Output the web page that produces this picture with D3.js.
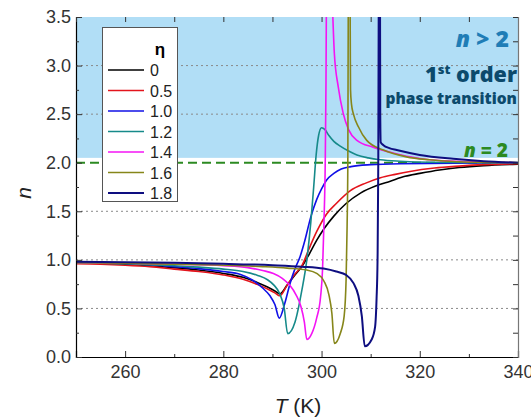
<!DOCTYPE html>
<html>
<head>
<meta charset="utf-8">
<script src="https://cdn.jsdelivr.net/npm/d3@7/dist/d3.min.js"></script>
<style>
  html, body { margin: 0; padding: 0; background: #fff; }
  svg { display: block; }
  .tick text { font-family: "Liberation Sans", Arial, sans-serif; font-size: 18px; fill: #333; }
</style>
</head>
<body>
<svg id="chart" width="531" height="419"></svg>
<script>
// Exponent n versus temperature T for several coupling strengths eta.
// Each curve is a list of [T (K), n] points; null breaks a curve where n diverges.
const etaLabels = ["0", "0.5", "1.0", "1.2", "1.4", "1.6", "1.8"];
const lineColors = ["#000000", "#e3141c", "#1010e6", "#168a8a", "#f414f4", "#86861a", "#0e0e80"];

const eta00 = [[250,0.97],[255,0.965],[260,0.955],[265,0.94],[270,0.92],[275,0.895],[280,0.86],[284,0.82],[287,0.765],[289,0.72],[290.5,0.68],[291.5,0.65],[293,0.74],[294.5,0.84],[296,0.93],[297.5,1.06],[299,1.2],[300.5,1.32],[302.5,1.45],[305,1.58],[308,1.69],[311,1.76],[314,1.81],[317,1.86],[320,1.89],[324,1.925],[328,1.95],[333,1.97],[340,1.985]];
const eta05 = [[250,0.96],[255,0.955],[260,0.945],[265,0.93],[270,0.905],[275,0.88],[280,0.845],[284,0.80],[287,0.745],[289,0.70],[290.5,0.66],[291.5,0.63],[293,0.74],[294.5,0.85],[296,0.94],[297.5,1.12],[299,1.29],[301,1.47],[303,1.58],[305.8,1.71],[309,1.79],[312,1.845],[315,1.88],[318,1.91],[323,1.945],[328,1.965],[333,1.98],[340,1.99]];
const eta10 = [[250,0.98],[255,0.975],[260,0.965],[265,0.95],[270,0.93],[275,0.91],[280,0.88],[283.5,0.85],[286,0.79],[288,0.71],[289.5,0.63],[290.5,0.54],[291.4,0.40],[292.5,0.55],[293.6,0.76],[294.6,0.91],[295.6,1.03],[296.6,1.2],[297.8,1.44],[299,1.62],[300,1.73],[301,1.82],[302.5,1.89],[304,1.935],[306,1.96],[310,1.98],[316,1.99],[340,2.0]];
const eta12 = [[250,0.97],[255,0.965],[260,0.96],[265,0.95],[270,0.94],[275,0.925],[280,0.905],[284,0.88],[287,0.84],[289,0.795],[290.3,0.74],[291.5,0.65],[292.4,0.50],[293.1,0.24],[294.6,0.36],[296,0.69],[297,1.0],[297.8,1.38],[298.4,1.75],[298.9,2.08],[299.4,2.28],[300,2.36],[300.7,2.34],[301.5,2.28],[302.5,2.22],[303.8,2.17],[305.5,2.12],[307.2,2.08],[309.5,2.05],[312,2.03],[316,2.015],[322,2.005],[340,2.0]];
const eta14 = [[250,0.97],[260,0.965],[270,0.955],[280,0.94],[285,0.92],[288,0.89],[290.2,0.86],[292,0.81],[293.5,0.74],[294.8,0.64],[295.8,0.52],[296.5,0.36],[297,0.18],[298,0.24],[299,0.4],[299.8,0.62],[300.2,0.9],[300.5,1.4],[300.75,2.0],[300.9,2.8],[301,3.8],null,[302.1,3.8],[302.3,3.5],[302.6,3.13],[303.4,2.78],[304.4,2.51],[305.5,2.34],[307.2,2.23],[310.5,2.16],[314.6,2.10],[318,2.06],[322,2.03],[328,2.015],[340,2.0]];
const eta16 = [[250,0.97],[260,0.965],[270,0.955],[280,0.945],[288,0.93],[293,0.915],[297,0.895],[299,0.86],[300.5,0.78],[301.5,0.64],[302.1,0.45],[302.6,0.14],[303.8,0.24],[304.6,0.42],[305.0,0.8],[305.2,1.34],[305.35,2.0],[305.45,3.8],null,[305.8,3.8],[305.85,3.2],[305.9,2.75],[306.1,2.6],[306.5,2.5],[307.5,2.37],[309.2,2.23],[312.6,2.13],[317.3,2.06],[322,2.03],[328,2.01],[340,2.0]];
const eta18 = [[250,0.98],[260,0.975],[270,0.97],[280,0.96],[290,0.945],[296,0.93],[300.4,0.91],[303,0.88],[305,0.845],[306.5,0.76],[307.5,0.63],[308.2,0.42],[308.8,0.11],[310.2,0.18],[310.9,0.31],[311.2,0.6],[311.4,1.0],[311.55,2.0],[311.65,3.8],null,[311.9,3.8],[311.95,2.5],[312.05,2.21],[312.6,2.18],[313.8,2.15],[315.3,2.13],[320,2.08],[326.8,2.04],[333,2.015],[340,2.0]];

const curves = [eta00, eta05, eta10, eta12, eta14, eta16, eta18];

const xTicks = [260, 280, 300, 320, 340];
const xMinorTicks = [250, 270, 290, 310, 330];
const yTicks = [0.0, 0.5, 1.0, 1.5, 2.0, 2.5, 3.0, 3.5];
const yMinorTicks = [0.25, 0.75, 1.25, 1.75, 2.25, 2.75, 3.25];
const gridLevels = [0.5, 1.0, 1.5, 2.5, 3.0];
const bandRange = [2.05, 3.5];   // shaded region n > 2
const boundaryLevel = 2.0;       // n = 2 line

const margin = { left: 76, right: 13, top: 17, bottom: 62 };
const W = 531, H = 419;
const svg = d3.select("#chart");

const x = d3.scaleLinear().domain([250, 340]).range([margin.left, W - margin.right]);
const y = d3.scaleLinear().domain([0, 3.5]).range([H - margin.bottom, margin.top]);

// shaded n > 2 region
svg.append("rect")
  .attr("x", x(250)).attr("width", x(340) - x(250))
  .attr("y", y(bandRange[1])).attr("height", y(bandRange[0]) - y(bandRange[1]))
  .attr("fill", "#b1def6");

// dotted grid
svg.append("g").selectAll("line").data(gridLevels).join("line")
  .attr("x1", x(250)).attr("x2", x(340))
  .attr("y1", d => y(d)).attr("y2", d => y(d))
  .attr("stroke", "#8a8a8a").attr("stroke-width", 1)
  .attr("stroke-dasharray", "2,3");

// n = 2 dashed line
svg.append("line")
  .attr("x1", x(250)).attr("x2", x(340))
  .attr("y1", y(boundaryLevel)).attr("y2", y(boundaryLevel))
  .attr("stroke", "#2c8a22").attr("stroke-width", 2)
  .attr("stroke-dasharray", "9,5");

// annotations
const annFont = "'Open Sans', 'DejaVu Sans', sans-serif";
const t1 = svg.append("text").attr("x", 509).attr("y", 47).attr("text-anchor", "end")
  .attr("font-family", annFont).attr("font-weight", 800).attr("font-size", 23).attr("fill", "#1f7db6");
t1.append("tspan").attr("font-style", "italic").text("n");
t1.append("tspan").text(" > 2");

const t2 = svg.append("text").attr("x", 517).attr("y", 82).attr("text-anchor", "end")
  .attr("font-family", annFont).attr("font-weight", 800).attr("font-size", 21.5).attr("fill", "#0c4a6c");
t2.append("tspan").text("1");
t2.append("tspan").attr("font-size", 13).attr("dy", -8).text("st");
t2.append("tspan").attr("dy", 8).text(" order");

svg.append("text").attr("x", 517).attr("y", 104).attr("text-anchor", "end")
  .attr("font-family", annFont).attr("font-weight", 800).attr("font-size", 15.5).attr("fill", "#0c4a6c")
  .text("phase transition");

const t3 = svg.append("text").attr("x", 508).attr("y", 157).attr("text-anchor", "end")
  .attr("font-family", annFont).attr("font-weight", 800).attr("font-size", 19).attr("fill", "#2c8a22");
t3.append("tspan").attr("font-style", "italic").text("n");
t3.append("tspan").text(" = 2");

// curves
svg.append("clipPath").attr("id", "plotClip").append("rect")
  .attr("x", x(250)).attr("y", y(3.5)).attr("width", x(340) - x(250)).attr("height", y(0) - y(3.5));

const line = d3.line()
  .defined(d => d !== null)
  .x(d => x(d[0])).y(d => y(d[1]))
  .curve(d3.curveMonotoneX);

svg.append("g").attr("clip-path", "url(#plotClip)")
  .selectAll("path").data(curves).join("path")
  .attr("d", d => line(d))
  .attr("fill", "none")
  .attr("stroke", (d, i) => lineColors[i])
  .attr("stroke-width", (d, i) => i === 6 ? 2 : 1.6)
  .attr("stroke-linejoin", "round");

// axes
svg.append("g").attr("transform", `translate(0,${y(0)})`)
  .call(d3.axisBottom(x).tickValues(xTicks).tickSize(-6).tickPadding(8).tickFormat(d3.format("d")));
svg.append("g").attr("transform", `translate(0,${y(0)})`)
  .call(d3.axisBottom(x).tickValues(xMinorTicks).tickSize(-3).tickFormat(""))
  .call(g => g.select(".domain").remove());
svg.append("g").attr("transform", `translate(${x(250)},0)`)
  .call(d3.axisLeft(y).tickValues(yTicks).tickSize(-6).tickPadding(5).tickFormat(d3.format(".1f")));
svg.append("g").attr("transform", `translate(${x(250)},0)`)
  .call(d3.axisLeft(y).tickValues(yMinorTicks).tickSize(-3).tickFormat(""))
  .call(g => g.select(".domain").remove());
// top and right ticks
svg.append("g").attr("transform", `translate(0,${y(3.5)})`)
  .call(d3.axisTop(x).tickValues(xTicks.concat(xMinorTicks)).tickSize(-5).tickFormat(""))
  .call(g => g.select(".domain").remove());
svg.append("g").attr("transform", `translate(${x(340)},0)`)
  .call(d3.axisRight(y).tickValues(yTicks.concat(yMinorTicks)).tickSize(-5).tickFormat(""))
  .call(g => g.select(".domain").attr("stroke", "#777"));

svg.selectAll(".domain").attr("stroke-width", 1.2);
svg.selectAll(".tick line").attr("stroke", "#333");

// axis titles
const xt = svg.append("text").attr("x", 298).attr("y", 413).attr("text-anchor", "middle")
  .attr("font-family", "'Liberation Sans', Arial, sans-serif").attr("font-size", 21).attr("fill", "#222");
xt.append("tspan").attr("font-style", "italic").text("T");
xt.append("tspan").text(" (K)");
svg.append("text").attr("transform", "translate(31,193) rotate(-90)").attr("text-anchor", "middle")
  .attr("font-family", "'Liberation Sans', Arial, sans-serif").attr("font-style", "italic")
  .attr("font-size", 21).attr("fill", "#222").text("n");

// legend
const lg = svg.append("g");
lg.append("rect").attr("x", 102.5).attr("y", 27.5).attr("width", 75).attr("height", 174)
  .attr("fill", "#fff").attr("stroke", "#555").attr("stroke-width", 1);
lg.append("text").attr("x", 160).attr("y", 55).attr("text-anchor", "middle")
  .attr("font-family", "'Liberation Sans', Arial, sans-serif").attr("font-weight", "bold")
  .attr("font-size", 17).attr("fill", "#000").text("η");
const rows = lg.selectAll("g.row").data(etaLabels).join("g").attr("class", "row")
  .attr("transform", (d, i) => `translate(0,${70 + i * 20.5})`);
rows.append("line").attr("x1", 108).attr("x2", 144).attr("y1", 0).attr("y2", 0)
  .attr("stroke", (d, i) => lineColors[i]).attr("stroke-width", (d, i) => i === 6 ? 2 : 1.6);
rows.append("text").attr("x", 150).attr("y", 6)
  .attr("font-family", "'Liberation Sans', Arial, sans-serif").attr("font-size", 16).attr("fill", "#222")
  .text(d => d);
</script>
</body>
</html>
